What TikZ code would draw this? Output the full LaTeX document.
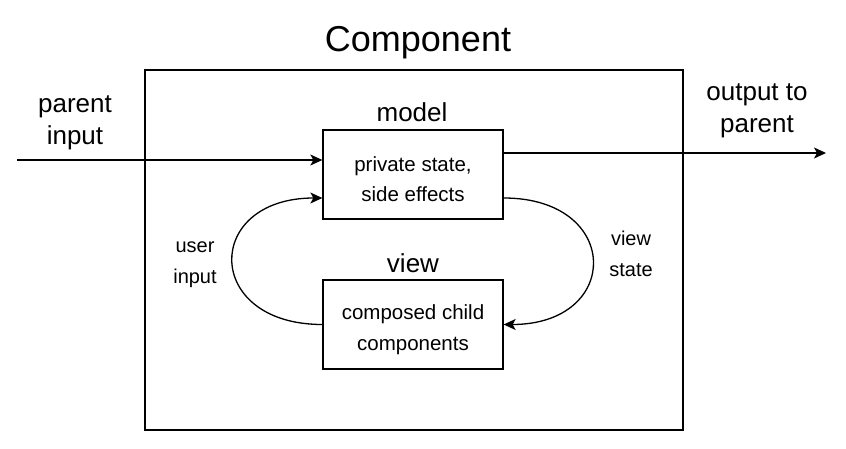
\documentclass[tikz,border=0pt]{standalone}
\usepackage{fontspec}
\setmainfont{Liberation Sans}
\usetikzlibrary{arrows.meta}
\begin{document}
\begin{tikzpicture}[x=1pt,y=-1pt,
  line width=1.3pt,
  box/.style={draw, minimum width=180pt, minimum height=89pt, inner sep=0pt, align=center, font=\fontsize{20.5}{30.5}\selectfont},
  biglabel/.style={align=center, inner sep=0pt, font=\fontsize{26}{32}\selectfont},
  smalllabel/.style={align=center, inner sep=0pt, font=\fontsize{20}{31}\selectfont},
  arr/.style={-{Stealth[length=12pt,width=11pt,inset=3pt]}}]
\useasboundingbox[fill=white] (0,0) rectangle (846,449);
\node[draw, minimum width=538pt, minimum height=360pt, inner sep=0pt] (comp) at (414,250) {};
\node[inner sep=0pt, font=\fontsize{36}{40}\selectfont] (title) at (418,43) {Component};
\node[box] (model) at (413,174.5) {};
\node[box] (view) at (413,324.5) {};
\node[align=center, inner sep=0pt, font=\fontsize{20.5}{30.5}\selectfont] (mtext) at ([yshift=-4.5pt]model.center) {private state,\\side effects};
\node[align=center, inner sep=0pt, font=\fontsize{20.5}{30.5}\selectfont] (vtext) at ([yshift=-5pt]view.center) {composed child\\components};
\node[biglabel] (modell) at (412,112) {model};
\node[biglabel] (viewl) at (413,263) {view};
\node[biglabel] (pinl) at (75,123) {parent\\input};
\node[biglabel] (poutl) at (757,111) {output to\\parent};
\node[smalllabel] (uil) at (195,265) {user\\input};
\node[smalllabel] (vsl) at (631,254) {view\\state};
\coordinate (pin) at (17,160);
\coordinate (pout) at (826,153);
\draw[arr] (pin) -- (model.west |- pin);
\draw[arr] (model.east |- pout) -- (pout);
\coordinate (mr) at ([yshift=-23.5pt]model.east);
\coordinate (ml) at ([yshift=-23.5pt]model.west);
\coordinate (vr) at (view.east);
\coordinate (vl) at (view.west);
\draw[arr] (mr) .. controls (622,198) and (622,324.5) .. (vr);
\draw[arr] (vl) .. controls (203,324.5) and (203,198) .. (ml);
\end{tikzpicture}
\end{document}
